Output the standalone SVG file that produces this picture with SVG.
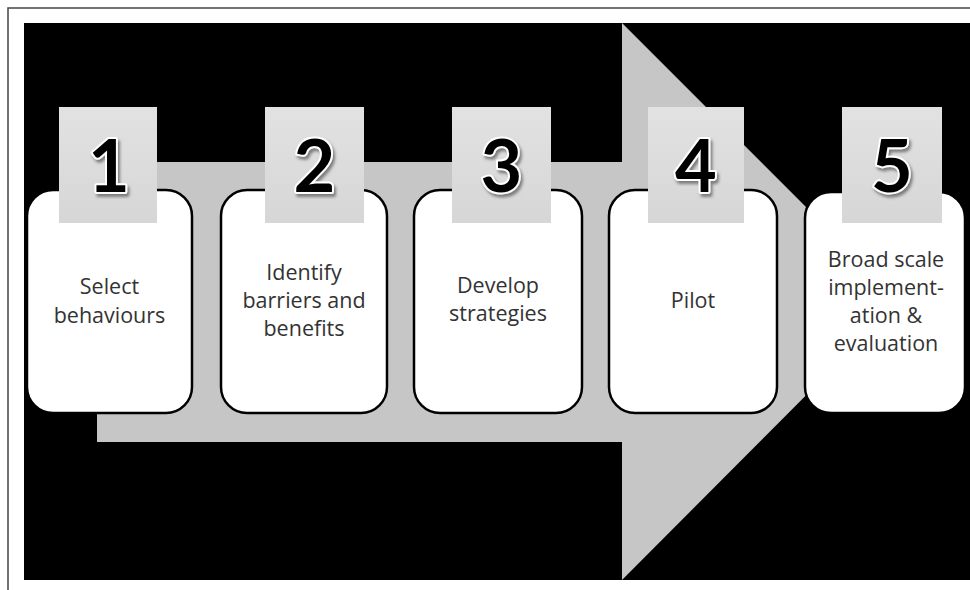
<svg xmlns="http://www.w3.org/2000/svg" width="970" height="590" viewBox="0 0 970 590">
  <defs>
    <style>
      .frame { fill: #ffffff; stroke: #444444; stroke-width: 1.5; }
      .panel { fill: #000000; }
      .arrow { fill: #c6c6c6; }
      .card { fill: #ffffff; stroke: #000000; stroke-width: 2.5; }
      .tab { fill: url(#tabFill); }
      .num { font-family: Lato, "DejaVu Sans", sans-serif; font-weight: 700; font-size: 72px;
             fill: #000000; stroke: #ffffff; stroke-width: 4; stroke-linejoin: round;
             paint-order: stroke; text-anchor: middle; filter: url(#numShadow); }
      .label { font-family: "Open Sans", "Liberation Sans", sans-serif; font-size: 21.5px;
               fill: #333333; text-anchor: middle; }
    </style>
    <linearGradient id="tabFill" x1="0" y1="0" x2="0" y2="1">
      <stop offset="0" stop-color="#e2e2e2"/>
      <stop offset="1" stop-color="#d6d6d6"/>
    </linearGradient>
    <filter id="numShadow" x="-20%" y="-20%" width="150%" height="150%">
      <feDropShadow dx="2" dy="3" stdDeviation="1.5" flood-color="#555555" flood-opacity="0.7"/>
    </filter>
  </defs>

  <!-- page frame and dark backdrop -->
  <rect class="frame" x="8" y="8" width="990" height="600"/>
  <rect class="panel" x="24" y="23" width="946" height="557"/>

  <!-- broad process arrow running behind the steps -->
  <g id="connectors">
    <path class="arrow" d="M97,162 H622 V23 L900,301 L622,580 V442 H97 Z"/>
  </g>

  <g id="step1">
    <rect class="card" x="27" y="190" width="165" height="223" rx="26"/>
    <rect class="tab" x="59" y="107" width="98" height="116"/>
    <text class="num" x="109" y="192">1</text>
    <text class="label" x="109.5" y="294">Select</text>
    <text class="label" x="109.5" y="323">behaviours</text>
  </g>

  <g id="step2">
    <rect class="card" x="221" y="190" width="166" height="223" rx="26"/>
    <rect class="tab" x="265" y="107" width="99" height="116"/>
    <text class="num" x="314.5" y="192">2</text>
    <text class="label" x="304" y="280">Identify</text>
    <text class="label" x="304" y="308">barriers and</text>
    <text class="label" x="304" y="336">benefits</text>
  </g>

  <g id="step3">
    <rect class="card" x="414" y="190" width="168" height="223" rx="26"/>
    <rect class="tab" x="452" y="107" width="99" height="116"/>
    <text class="num" x="501.5" y="192">3</text>
    <text class="label" x="498" y="293">Develop</text>
    <text class="label" x="498" y="321">strategies</text>
  </g>

  <g id="step4">
    <rect class="card" x="609" y="190" width="168" height="223" rx="26"/>
    <rect class="tab" x="648" y="107" width="96" height="116"/>
    <text class="num" x="696" y="192">4</text>
    <text class="label" x="693" y="308">Pilot</text>
  </g>

  <g id="step5">
    <rect class="card" x="805" y="192" width="160" height="221" rx="26"/>
    <rect class="tab" x="842" y="107" width="100" height="116"/>
    <text class="num" x="892" y="192">5</text>
    <text class="label" x="886" y="267">Broad scale</text>
    <text class="label" x="886" y="295">implement-</text>
    <text class="label" x="886" y="323">ation &amp;</text>
    <text class="label" x="886" y="351">evaluation</text>
  </g>
</svg>
